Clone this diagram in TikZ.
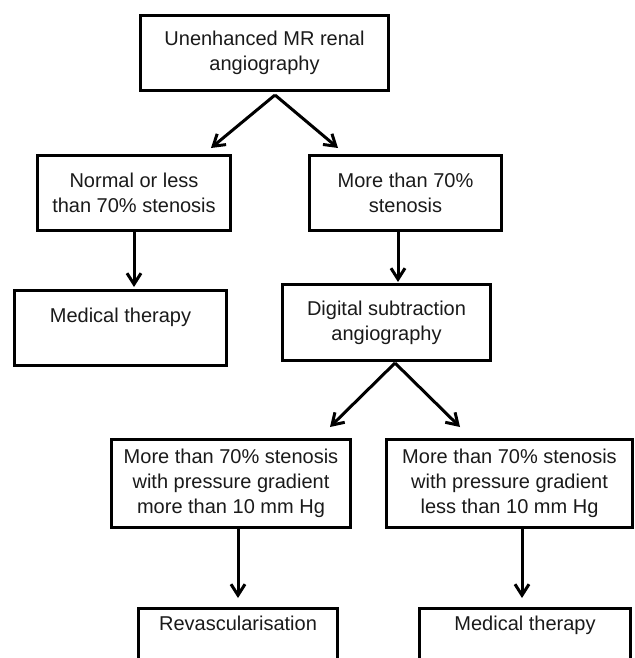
\documentclass[tikz,border=0pt]{standalone}
\usepackage{fontspec}
\setmainfont{Liberation Sans}
\usepackage{xcolor}
\usepackage{tikz}
\usetikzlibrary{arrows.meta,positioning,calc}
\definecolor{ink}{HTML}{000000}
\definecolor{txt}{HTML}{1A1A1A}
\tikzset{
  flowbox/.style={
    rectangle, draw=ink, line width=3pt, fill=white,
    minimum width=#1, minimum height=75pt,
    font=\fontsize{20}{25}\selectfont, text=txt, align=center,
    inner sep=4pt
  },
  flowbox/.default=200pt,
  cutbox/.style={
    rectangle, draw=ink, line width=3pt, fill=white,
    minimum width=#1, anchor=north,
    font=\fontsize{20}{25}\selectfont, text=txt,
    inner sep=4pt, text height=17.5pt, text depth=80pt
  },
  flowarrow/.style={
    -{Straight Barb[length=11pt,width=14pt]}, line width=3pt, color=ink
  },
}

\begin{document}
\begin{tikzpicture}[x=1pt, y=-1pt]
\useasboundingbox (0,0) rectangle (634,658);
\clip (0,0) rectangle (634,658);
\node[flowbox=248pt] (mra) at (264.5,53) {Unenhanced MR renal\\angiography};
\node[flowbox=193pt] (normal) at (134,193) {Normal or less\\than 70\% stenosis};
\node[flowbox=192pt] (above70) at (405.5,193) {More than 70\%\\stenosis};
\node[flowbox=212pt] (medical-l) at (120.5,328) {Medical therapy\\\mbox{}};
\node[flowbox=208pt, minimum height=76pt] (dsa) at (386.5,322.5) {Digital subtraction\\angiography};
\node[flowbox=239pt, minimum height=88pt] (grad-high) at (231,483.5)
  {More than 70\% stenosis\\with pressure gradient\\more than 10 mm Hg};
\node[flowbox=246pt, minimum height=88pt] (grad-low) at (509.5,483.5)
  {More than 70\% stenosis\\with pressure gradient\\less than 10 mm Hg};
\node[cutbox=199pt] (revasc) at (238,607) {Revascularisation};
\node[cutbox=211pt] (medical-r) at (525,607) {Medical therapy};
\coordinate (fork-mra) at ($(mra.south)+(10.5,3)$);
\coordinate (fork-dsa) at ($(dsa.south)+(8.5,1)$);
\draw[flowarrow] (fork-mra) -- ([shift={(-21,-6)}]normal.north east);
\draw[flowarrow] (fork-mra) -- ([shift={(30,-6)}]above70.north west);
\draw[flowarrow, shorten >=2pt] (normal.south) -- (normal.south |- medical-l.north);
\draw[flowarrow, shorten >=1pt] ([xshift=-7.5pt]above70.south) -- ([xshift=-7.5pt]above70.south |- dsa.north);
\draw[flowarrow] (fork-dsa) -- ([shift={(-22,-11)}]grad-high.north east);
\draw[flowarrow] (fork-dsa) -- ([shift={(75,-11)}]grad-low.north west);
\draw[flowarrow, shorten >=9pt] (revasc.north |- grad-high.south) -- (revasc.north);
\draw[flowarrow, shorten >=9pt] ([xshift=-3pt]medical-r.north |- grad-low.south) -- ([xshift=-3pt]medical-r.north);
\end{tikzpicture}
\end{document}
